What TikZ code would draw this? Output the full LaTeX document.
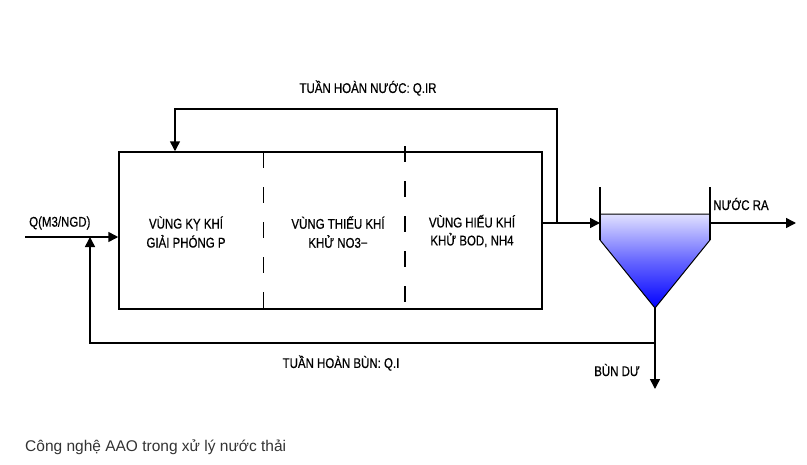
\documentclass[tikz,border=0pt]{standalone}
\usepackage{fontspec}
\setmainfont{Liberation Sans}
\newfontfamily\cadfont[FakeStretch=0.82,FakeBold=0.6]{Liberation Sans}
\usetikzlibrary{arrows.meta}
\definecolor{captiongray}{HTML}{333333}
\begin{document}
\begin{tikzpicture}[x=1pt,y=-1pt,
  line/.style={line width=1.5pt, black},
  arr/.style={line, -{Triangle[length=10pt,width=10pt]}},
  lbl/.style={font=\cadfont\fontsize{14}{16}\selectfont, inner sep=0pt, align=center},
  divider/.style={line width=1.4pt, dash pattern=on 16pt off 19pt},
  tankbox/.style={draw, line width=1.5pt, minimum width=423pt, minimum height=157pt, inner sep=0pt}
]
\useasboundingbox (0,0) rectangle (807,464);

% main tank
\node[tankbox] (tank) at (330.5,230.5) {};
\coordinate (d1t) at (263.5,152);
\coordinate (d1b) at (263.5,309);
\coordinate (d2t) at (405,146);
\coordinate (d2b) at (405,309);
\draw[divider] (d1t) -- (d1b);
\draw[divider] (d2t) -- (d2b);

% zone labels
\node[lbl] (z1) at (186,232) {VÙNG KỴ KHÍ\\[3pt]GIẢI PHÓNG P};
\node[lbl] (z2) at (338,232) {VÙNG THIẾU KHÍ\\[3pt]KHỬ NO3−};
\node[lbl] (z3) at (472,231) {VÙNG HIẾU KHÍ\\[2pt]KHỬ BOD, NH4};

% clarifier
\coordinate (cpl) at (600,187);
\coordinate (cpr) at (710,187);
\coordinate (cwl) at (600,214);
\coordinate (cwr) at (710,214);
\coordinate (cl) at (600,240);
\coordinate (cr) at (710,240);
\coordinate (apex) at (655,308);
\shade[top color=blue!12!white, bottom color=blue, middle color=blue!60!white]
  (cwl) -- (cwr) -- (cr) -- (apex) -- (cl) -- cycle;
\draw[line width=1pt] (cwl) -- (cwr) -- (cr) -- (apex) -- (cl) -- cycle;
\draw[line] (cpl) -- (cl);
\draw[line] (cpr) -- (cr);

% inflow
\coordinate (in) at (25,237);
\draw[arr] (in) -- (tank.west |- in);
\node[lbl, anchor=west] (qin) at (29,223) {Q(M3/NGD)};

% outflow to clarifier and internal recycle
\coordinate (j1) at (557,223);
\coordinate (cin) at (600,223);
\coordinate (r1) at (175,109);
\draw[line] (tank.east |- j1) -- (j1);
\draw[arr] (j1) -- (cin);
\draw[arr] (j1) |- (r1) -- (r1 |- tank.north);
\node[lbl] (qir) at (368,88) {TUẦN HOÀN NƯỚC: Q.IR};

% effluent
\coordinate (cout) at (710,223);
\coordinate (eff) at (796,223);
\draw[arr] (cout) -- (eff);
\node[lbl] (nra) at (741,204) {NƯỚC RA};

% sludge
\coordinate (j2) at (655,343);
\coordinate (waste) at (655,389);
\coordinate (r2) at (90,343);
\draw[arr] (apex) -- (waste);
\draw[arr] (j2) -- (r2) -- (r2 |- in);
\node[lbl] (qr) at (341,363) {TUẦN HOÀN BÙN: Q.I};
\node[lbl] (bd) at (617,370) {BÙN DƯ};

% caption
\node[anchor=west, inner sep=0pt, text=captiongray, font=\fontsize{15.5}{18}\selectfont] (cap) at (25,447) {Công nghệ AAO trong xử lý nước thải};
\end{tikzpicture}
\end{document}
